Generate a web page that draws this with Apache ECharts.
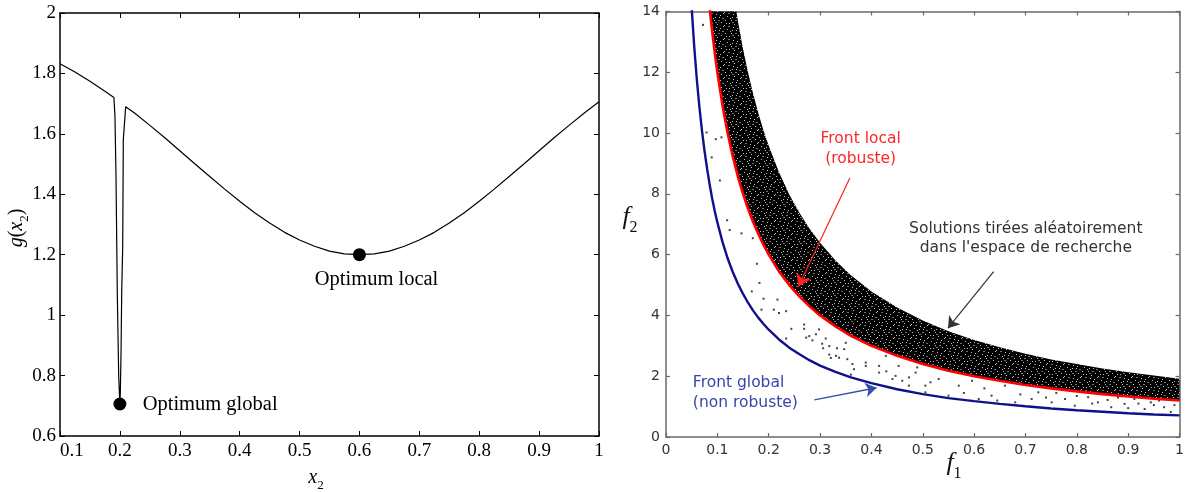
<!DOCTYPE html>
<html><head><meta charset="utf-8">
<script src="https://cdn.jsdelivr.net/npm/echarts@6/dist/echarts.min.js"></script>
<style>html,body{margin:0;padding:0;background:#fff}#c{width:1187px;height:492px}</style>
</head><body><div id="c"></div>
<script>
// ---------- Left panel data: g(x2) ----------
const gX = [0.1,0.125,0.15,0.175,0.19,0.1907,0.1918,0.1935,0.1957,0.198,0.199,0.2,0.2007,0.2019,0.203,0.2047,0.2057,0.2097,
  0.225,0.25,0.275,0.3,0.325,0.35,0.375,0.4,0.425,0.45,0.475,0.5,0.525,0.55,0.575,0.6,0.625,0.65,0.675,0.7,0.725,0.75,0.775,0.8,0.825,0.85,0.875,0.9,0.925,0.95,0.975,1.0];
const gY = [1.832,1.805,1.774,1.741,1.720,1.716,1.657,1.46,1.07,0.80,0.75,0.706,0.742,0.875,1.072,1.227,1.58,1.690,
  1.668,1.628,1.587,1.544,1.501,1.459,1.417,1.377,1.339,1.305,1.274,1.2485,1.228,1.212,1.203,1.2,1.203,1.212,1.228,1.2485,1.274,1.305,1.339,1.377,1.417,1.459,1.501,1.544,1.587,1.628,1.668,1.706];
const optimaX = [0.2, 0.6];
const optimaY = [0.706, 1.2];
const optimaLabels = ['Optimum global', 'Optimum local'];

// ---------- Right panel data: fronts ----------
const f1 = [0.05,0.055,0.06,0.065,0.07,0.075,0.08,0.085,0.09,0.095,0.1,0.11,0.12,0.13,0.14,0.15,0.16,0.17,0.18,0.19,0.2,0.22,0.24,0.26,0.28,0.3,0.33,0.36,0.4,0.45,0.5,0.55,0.6,0.65,0.7,0.75,0.8,0.85,0.9,0.95,1.0];
const globalF2 = [14.12,12.84,11.77,10.86,10.09,9.41,8.83,8.31,7.84,7.43,7.06,6.42,5.88,5.43,5.04,4.71,4.41,4.15,3.92,3.72,3.53,3.21,2.94,2.72,2.52,2.35,2.14,1.96,1.77,1.57,1.41,1.28,1.18,1.09,1.01,0.94,0.88,0.83,0.78,0.74,0.71];
const localF2 = [24,21.82,20,18.46,17.14,16,15,14.12,13.33,12.63,12,10.91,10,9.23,8.57,8,7.5,7.06,6.67,6.32,6,5.45,5,4.62,4.29,4,3.64,3.33,3,2.67,2.4,2.18,2,1.85,1.71,1.6,1.5,1.41,1.33,1.26,1.2];
const cloudTopF2 = [38.32,34.84,31.93,29.48,27.37,25.55,23.95,22.54,21.29,20.17,19.16,17.42,15.97,14.74,13.69,12.77,11.98,11.27,10.64,10.08,9.58,8.71,7.98,7.37,6.84,6.39,5.81,5.32,4.79,4.26,3.83,3.48,3.19,2.95,2.74,2.55,2.40,2.25,2.13,2.02,1.92];
// sparse random solutions between the two fronts
const sparseF1 = [0.072,0.079,0.097,0.108,0.089,0.105,0.119,0.124,0.147,0.169,
  0.177,0.182,0.167,0.190,0.217,0.186,0.210,0.220,0.234,0.244,0.269,0.234,0.273,0.285,0.292,0.304,0.311,0.306,0.333,0.321,0.318,0.337,0.347,0.353,0.363,0.366,0.389,0.415,0.429,0.447,0.460,0.473,0.489,0.505,0.515,
  0.269,0.279,0.298,0.318,0.331,0.350,0.36,0.389,0.415,0.428,0.441,0.453,0.473,0.486,0.505,0.531,0.550,0.570,0.596,0.609,0.634,0.660,0.680,0.712,0.725,0.751,0.777,0.796,0.822,0.841,0.867,0.893,0.912,0.932,0.944,0.970,0.983,
  0.58,0.62,0.645,0.69,0.74,0.76,0.8,0.83,0.86,0.88,0.9,0.92,0.95,0.96,0.99];
const sparseF2 = [13.56,10.02,9.80,9.86,9.20,8.44,7.13,6.81,6.70,6.54,
  5.70,5.07,4.79,4.55,4.52,4.19,4.19,4.08,4.14,3.56,3.56,3.24,3.27,3.18,3.38,3.07,3.24,2.92,2.92,2.60,2.71,2.61,2.89,2.56,2.40,2.23,2.34,2.34,2.16,2.01,1.85,1.96,2.29,1.69,1.80,
  3.70,3.32,3.54,2.99,2.67,3.10,2.05,2.45,2.12,2.67,1.91,2.34,1.69,2.12,1.47,1.91,1.36,1.69,1.85,1.25,1.36,1.69,1.14,1.25,1.47,1.14,1.25,1.03,1.31,1.14,0.98,1.09,1.25,0.92,1.14,0.98,0.82,
  1.45,1.6,1.2,1.4,1.3,1.45,1.35,1.1,1.22,1.3,0.95,1.1,1.05,1.2,1.05];

// ---------- Annotation anchors (data coordinates) ----------
const arrowLocal = [[0.358, 8.52], [0.258, 4.95]];
const arrowCloud = [[0.638, 5.44], [0.549, 3.58]];
const arrowGlobal = [[0.289, 1.22], [0.41, 1.62]];
const textLocalAt = [0.379, 9.48];
const textCloudAt = [0.7006, 6.53];
const textGlobalAt = [0.0523, 1.454];
const textOptGlobalAt = [0.238, 0.703];
const textOptLocalAt = [0.6285, 1.117];

const chart = echarts.init(document.getElementById('c'), null, {renderer: 'canvas'});

// speckle texture for the dense cloud
const pc = document.createElement('canvas');
pc.width = 17; pc.height = 13;
const pctx = pc.getContext('2d');
pctx.fillStyle = '#000'; pctx.fillRect(0, 0, 17, 13);
pctx.fillStyle = 'rgba(255,255,255,0.75)';
[[2,1],[9,0],[13,3],[5,4],[11,7],[0,7],[7,9],[15,10],[3,11],[10,12],[6,2],[16,5],[12,10],[1,4]].forEach(p => pctx.fillRect(p[0], p[1], 1, 1));
pctx.fillStyle = 'rgba(255,255,255,0.45)';
[[4,7],[14,0],[8,5],[1,9]].forEach(p => pctx.fillRect(p[0], p[1], 2, 1));

const serif = 'Liberation Serif';
const sans = 'DejaVu Sans';
const leftLine = {onZero: false, lineStyle: {color: '#000', width: 1.5}};
const leftTick = {inside: true, length: 5, lineStyle: {color: '#000', width: 1}};
const rightLine = {onZero: false, lineStyle: {color: '#6a6a6a', width: 1.5}};
const rightTick = {inside: true, length: 4, lineStyle: {color: '#6a6a6a', width: 1.2}};

const zip = (a, b) => a.map((v, i) => [v, b[i]]);

chart.setOption({
  animation: false,
  backgroundColor: '#fff',
  grid: [
    {left: 60, top: 13, width: 539, height: 423},
    {left: 666, top: 11.5, width: 516, height: 425.5}
  ],
  xAxis: [
    {gridIndex: 0, type: 'value', min: 0.1, max: 1, interval: 0.1, position: 'bottom', axisLine: leftLine, axisTick: leftTick,
      axisLabel: {color: '#000', fontFamily: serif, fontSize: 19, margin: 6, alignMinLabel: 'left'}, splitLine: {show: false}},
    {gridIndex: 0, type: 'value', min: 0.1, max: 1, interval: 0.1, position: 'top', axisLine: leftLine, axisTick: leftTick,
      axisLabel: {show: false}, splitLine: {show: false}},
    {gridIndex: 1, type: 'value', min: 0, max: 1, interval: 0.1, position: 'bottom', axisLine: rightLine, axisTick: rightTick,
      axisLabel: {color: '#333', fontFamily: sans, fontSize: 14, margin: 6}, splitLine: {show: false}},
    {gridIndex: 1, type: 'value', min: 0, max: 1, interval: 0.1, position: 'top', axisLine: rightLine, axisTick: rightTick,
      axisLabel: {show: false}, splitLine: {show: false}}
  ],
  yAxis: [
    {gridIndex: 0, type: 'value', min: 0.6, max: 2, interval: 0.2, position: 'left', axisLine: leftLine, axisTick: leftTick,
      axisLabel: {color: '#000', fontFamily: serif, fontSize: 19, margin: 4}, splitLine: {show: false}},
    {gridIndex: 0, type: 'value', min: 0.6, max: 2, interval: 0.2, position: 'right', axisLine: leftLine, axisTick: leftTick,
      axisLabel: {show: false}, splitLine: {show: false}},
    {gridIndex: 1, type: 'value', min: 0, max: 14, interval: 2, position: 'left', axisLine: rightLine, axisTick: rightTick,
      axisLabel: {color: '#333', fontFamily: sans, fontSize: 14, margin: 6}, splitLine: {show: false}},
    {gridIndex: 1, type: 'value', min: 0, max: 14, interval: 2, position: 'right', axisLine: rightLine, axisTick: rightTick,
      axisLabel: {show: false}, splitLine: {show: false}}
  ],
  series: [
    {type: 'line', xAxisIndex: 0, yAxisIndex: 0, data: zip(gX, gY), showSymbol: false, silent: true,
      lineStyle: {color: '#000', width: 1.2}},
    {type: 'scatter', xAxisIndex: 0, yAxisIndex: 0, data: zip(optimaX, optimaY), symbolSize: 13, silent: true,
      itemStyle: {color: '#000', opacity: 1}},
    {type: 'custom', xAxisIndex: 2, yAxisIndex: 2, clip: true, silent: true, data: [0],
      renderItem: function (params, api) {
        const pts = [];
        for (let i = 6; i < f1.length; i++) pts.push(api.coord([f1[i], cloudTopF2[i]]));
        for (let i = f1.length - 1; i >= 6; i--) pts.push(api.coord([f1[i], localF2[i]]));
        return {type: 'polygon', shape: {points: pts}, style: {fill: {image: pc, repeat: 'repeat'}, stroke: null}};
      }},
    {type: 'scatter', xAxisIndex: 2, yAxisIndex: 2, data: zip(sparseF1, sparseF2), symbol: 'rect', symbolSize: 2, silent: true,
      itemStyle: {color: '#444', opacity: 1},
      markLine: {silent: true, symbol: ['none', 'arrow'], symbolSize: 11, label: {show: false},
        lineStyle: {color: '#333', width: 1.2, type: 'solid'},
        data: [[{coord: arrowCloud[0]}, {coord: arrowCloud[1]}]]}},
    {type: 'line', xAxisIndex: 2, yAxisIndex: 2, data: zip(f1, localF2), showSymbol: false, silent: true,
      lineStyle: {color: '#ff0000', width: 2.6},
      markLine: {silent: true, symbol: ['none', 'arrow'], symbolSize: 12, label: {show: false},
        lineStyle: {color: '#ff2020', width: 1.2, type: 'solid'},
        data: [[{coord: arrowLocal[0]}, {coord: arrowLocal[1]}]]}},
    {type: 'line', xAxisIndex: 2, yAxisIndex: 2, data: zip(f1, globalF2), showSymbol: false, silent: true,
      lineStyle: {color: '#10108a', width: 2.4},
      markLine: {silent: true, symbol: ['none', 'arrow'], symbolSize: 11, label: {show: false},
        lineStyle: {color: '#3050b0', width: 1.4, type: 'solid'},
        data: [[{coord: arrowGlobal[0]}, {coord: arrowGlobal[1]}]]}}
  ]
});

const P0 = pt => chart.convertToPixel({gridIndex: 0}, pt);
const P1 = pt => chart.convertToPixel({gridIndex: 1}, pt);
const oG = P0(textOptGlobalAt), oL = P0(textOptLocalAt);
const tL = P1(textLocalAt), tC = P1(textCloudAt), tG = P1(textGlobalAt);

function txt(x, y, text, font, fill, align, lineHeight) {
  return {type: 'text', x: x, y: y, silent: true, style: {text: text, font: font, fill: fill,
    align: align, verticalAlign: 'middle', textAlign: align, textVerticalAlign: 'middle', lineHeight: lineHeight}};
}
const richSerif = {
  i: {fontFamily: serif, fontStyle: 'italic', fontSize: 20, padding: [0, 0, 5, 0], verticalAlign: 'bottom', fill: '#000'},
  n: {fontFamily: serif, fontSize: 20, padding: [0, 0, 5, 0], verticalAlign: 'bottom', fill: '#000'},
  s: {fontFamily: serif, fontSize: 13, verticalAlign: 'bottom', fill: '#000'}
};
const richF = {
  i: {fontFamily: serif, fontStyle: 'italic', fontSize: 26, padding: [0, 0, 6, 0], verticalAlign: 'bottom', fill: '#111'},
  s: {fontFamily: serif, fontSize: 16, verticalAlign: 'bottom', fill: '#111'}
};
function rich(x, y, text, richDef, rot) {
  return {type: 'text', x: x, y: y, rotation: rot || 0, silent: true,
    style: {text: text, rich: richDef, align: 'center', verticalAlign: 'middle', textAlign: 'center', textVerticalAlign: 'middle'}};
}

chart.setOption({
  graphic: [
    txt(oG[0], oG[1], optimaLabels[0], '20.5px "Liberation Serif"', '#000', 'left', 22),
    txt(oL[0], oL[1], optimaLabels[1], '20.5px "Liberation Serif"', '#000', 'center', 22),
    txt(tL[0], tL[1], 'Front local\n(robuste)', '15.5px "DejaVu Sans"', '#ff2626', 'center', 20),
    txt(tC[0], tC[1], 'Solutions tirées aléatoirement\ndans l\'espace de recherche', '15.5px "DejaVu Sans"', '#333', 'center', 19),
    txt(tG[0], tG[1], 'Front global\n(non robuste)', '15.5px "DejaVu Sans"', '#3c44aa', 'left', 20),
    rich(19, 228, '{i|g}{n|(}{i|x}{s|2}{n|)}', richSerif, Math.PI / 2),
    rich(316, 480, '{i|x}{s|2}', richSerif, 0),
    rich(630, 220, '{i|f}{s|2}', richF, 0),
    rich(954, 466, '{i|f}{s|1}', richF, 0)
  ]
});
</script>
</body></html>
